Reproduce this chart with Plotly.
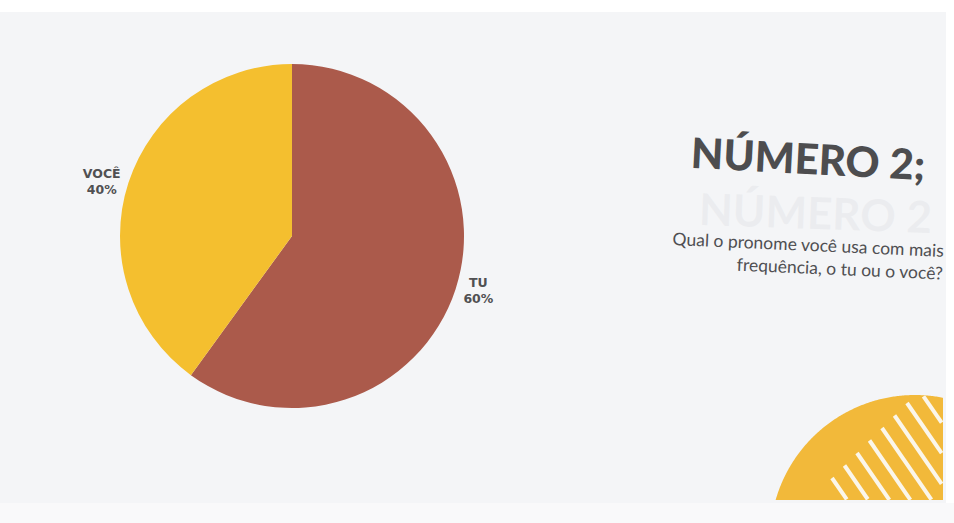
import numpy as np
import plotly.graph_objects as go

# ---- data ----
labels = ["TU", "VOCÊ"]
values = [60, 40]
colors = ["#AB5A4B", "#F4BF2F"]

title_text = "NÚMERO 2;"
question_lines = ["Qual o pronome você usa com mais", "frequência, o tu ou o você?"]

W, H = 954, 523


def px(x):
    return x / W


def py(y):
    return 1 - y / H


cx, cy, r = 292, 236, 172

fig = go.Figure()
fig.add_trace(go.Pie(
    labels=labels,
    values=values,
    sort=False,
    direction="clockwise",
    rotation=0,
    marker=dict(colors=colors, line=dict(width=0)),
    textposition="outside",
    texttemplate="<b>%{label}<br>%{percent:.0%}</b>",
    textfont=dict(family="DejaVu Sans", size=12.5, color="#505052"),
    showlegend=False,
    hoverinfo="label+percent",
    domain=dict(x=[px(cx - r), px(cx + r)], y=[py(cy + r), py(cy - r)]),
))

shapes = []
# photo background regions
shapes.append(dict(type="rect", xref="paper", yref="paper", x0=0, x1=1, y0=py(12), y1=1,
                   fillcolor="#ffffff", line=dict(width=0), layer="below"))
shapes.append(dict(type="rect", xref="paper", yref="paper", x0=px(946), x1=1, y0=0, y1=1,
                   fillcolor="#ffffff", line=dict(width=0), layer="below"))
shapes.append(dict(type="rect", xref="paper", yref="paper", x0=0, x1=1, y0=0, y1=py(503),
                   fillcolor="#f9f9fa", line=dict(width=0), layer="below"))

# decorative quarter circle with stripes (bottom right)
dcx, dcy, dr = 915, 540, 145
xr, yb = 943, 500
ang = np.linspace(0, 2 * np.pi, 721)
pts = [(dcx + dr * np.cos(a), dcy + dr * np.sin(a)) for a in ang]
pts = [(min(x, xr), min(y, yb)) for x, y in pts]
path = "M " + " L ".join(f"{px(x):.5f},{py(y):.5f}" for x, y in pts) + " Z"
shapes.append(dict(type="path", xref="paper", yref="paper", path=path,
                   fillcolor="#F2B93A", line=dict(width=0), layer="above"))


def inside(x, y):
    return (x - dcx) ** 2 + (y - dcy) ** 2 <= (dr - 1) ** 2 and x <= xr - 1 and y <= yb


d = np.array([1.0, 1.45])
d = d / np.linalg.norm(d)
for i in range(9):
    s = np.array([832 + 12.5 * i, 478 - 12.5 * i])
    p = s.copy()
    steps = 0
    while not inside(*p) and steps < 400:
        p = p + d
        steps += 1
    if steps >= 400:
        continue
    start = p.copy()
    while inside(*(p + d)):
        p = p + d
    end = p
    if np.linalg.norm(end - start) < 4:
        continue
    shapes.append(dict(type="line", xref="paper", yref="paper",
                       x0=px(start[0]), y0=py(start[1]), x1=px(end[0]), y1=py(end[1]),
                       line=dict(color="#fbf6ea", width=4), layer="above"))

annotations = []
# faint show-through text
annotations.append(dict(text="<b>NÚMERO 2</b>", x=px(815), y=py(212), xref="paper", yref="paper",
                        xanchor="center", yanchor="middle",
                        showarrow=False, font=dict(family="Lato", size=44, color="rgba(205,207,212,0.22)"),
                        textangle=2))
annotations.append(dict(text=title_text, x=px(808), y=py(158), xref="paper", yref="paper",
                        xanchor="center", yanchor="middle",
                        showarrow=False, textangle=3,
                        font=dict(family="Lato", size=42, color="#4d4d4f", weight=900)))
annotations.append(dict(text="<br>".join(question_lines), x=px(947), y=py(256), xref="paper", yref="paper",
                        xanchor="right", yanchor="middle", align="right", showarrow=False, textangle=2.5,
                        font=dict(family="Lato", size=17.5, color="#4f4f52")))

fig.update_layout(
    width=W, height=H,
    margin=dict(l=0, r=0, t=0, b=0),
    paper_bgcolor="#f4f5f7",
    plot_bgcolor="#f4f5f7",
    shapes=shapes,
    annotations=annotations,
)

fig.write_html("out.html")
